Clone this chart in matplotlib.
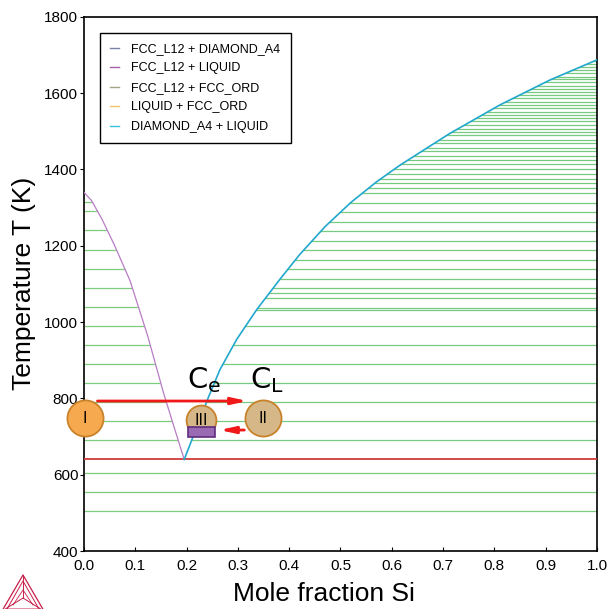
import matplotlib
matplotlib.use("Agg")
import matplotlib.pyplot as plt
from matplotlib.lines import Line2D
from matplotlib.patches import Rectangle, Polygon

plt.rcParams['font.family'] = ['Liberation Sans', 'DejaVu Sans']
plt.rcParams['mathtext.fontset'] = 'dejavusans'

# liquidus curves (mole fraction Si, T in K)
left_x = [0.0, 0.015, 0.035, 0.060, 0.090, 0.124, 0.155, 0.175, 0.1955]
left_T = [1340, 1318, 1270, 1200, 1108, 965, 815, 728, 640]
right_x = [0.1955, 0.243, 0.265, 0.298, 0.337, 0.382, 0.420, 0.470, 0.520, 0.570,
           0.616, 0.713, 0.811, 0.908, 1.0]
right_T = [640, 804, 875, 955, 1033, 1112, 1176, 1250, 1313, 1367,
           1411, 1494, 1569, 1634, 1687]

eutectic_T = 640

# tie-lines
below_ties = [505, 555, 605]
left_ties = [690, 740, 790, 840, 890, 940, 990, 1040, 1090, 1140, 1190, 1240, 1290, 1315]
right_ties = [690, 740, 790, 840, 890, 940, 990, 1032, 1037, 1064, 1075, 1088, 1113, 1138,
              1162, 1189, 1212, 1238, 1263, 1289, 1313, 1339, 1350, 1363, 1376, 1389, 1401,
              1413, 1424, 1436, 1447, 1457, 1468, 1478, 1489, 1498, 1507, 1517, 1526, 1535,
              1543, 1551, 1560, 1569, 1577, 1586, 1594, 1602, 1611, 1619, 1628, 1636, 1643,
              1652, 1661, 1668, 1676, 1683]

legend_labels = ["FCC_L12 + DIAMOND_A4", "FCC_L12 + LIQUID", "FCC_L12 + FCC_ORD",
                 "LIQUID + FCC_ORD", "DIAMOND_A4 + LIQUID"]
legend_colors = ["#7a84a8", "#a560a8", "#a6a486", "#f2c46a", "#3cc0e0"]

# annotation markers
circle_x = [0.002, 0.3495, 0.229]
circle_T = [748, 748, 743]
circle_text = ["I", "II", "III"]

fig = plt.figure(figsize=(6.08, 6.09), dpi=100)
ax = fig.add_axes([0.138, 0.0952, 0.844, 0.8774])

tie_color = "#5cbf5c"
ax.hlines(below_ties, 0, 1, color=tie_color, lw=0.9, alpha=0.8, zorder=1)
ax.hlines(left_ties, 0, 0.2, color=tie_color, lw=0.9, alpha=0.8, zorder=1)
ax.hlines(right_ties, 0.19, 1, color="#2fae3a", lw=0.9, alpha=0.65, zorder=1)

# liquid region (no tie-lines)
liq = list(zip(left_x, left_T)) + list(zip(right_x[1:], right_T[1:])) + [(1.0, 1800), (0.0, 1800)]
ax.add_patch(Polygon(liq, closed=True, facecolor="white", edgecolor="none", zorder=2))

ax.axhline(eutectic_T, color="#d03a3a", lw=1.3, zorder=3)
ax.plot(left_x, left_T, color="#b87cc4", lw=0.9, zorder=3)
ax.plot(right_x, right_T, color="#22a8cc", lw=1.2, zorder=3)

ax.set_xlim(0, 1)
ax.set_ylim(400, 1800)
ax.set_xticks([i / 10 for i in range(11)])
ax.set_xticklabels([f"{i / 10:.1f}" for i in range(11)])
ax.set_yticks(range(400, 1801, 200))
ax.tick_params(axis='x', direction='in', length=3, pad=6, labelsize=11)
ax.tick_params(axis='y', direction='out', length=3, pad=1, labelsize=11)
for s in ax.spines.values():
    s.set_linewidth(1.2)

ax.set_xlabel("Mole fraction Si", fontsize=19)
ax.xaxis.set_label_coords(0.468, -0.058)
ax.set_ylabel("Temperature T (K)", fontsize=19)
ax.yaxis.set_label_coords(-0.093, 0.5)

handles = [Line2D([0], [0], color=c, lw=1) for c in legend_colors]
leg = ax.legend(handles, legend_labels, loc='upper left', fontsize=9, handlelength=0.7,
                handletextpad=1.0, labelspacing=0.6, borderaxespad=1.3, fancybox=False,
                framealpha=1, borderpad=0.8)
leg.get_frame().set_edgecolor("black")
leg.get_frame().set_linewidth(1.0)
leg.set_zorder(10)

# arrows
ax.annotate("", xy=(0.324, 793), xytext=(0.021, 793),
            arrowprops=dict(arrowstyle='-|>,head_width=0.2,head_length=0.9', color='#f01818', lw=2),
            zorder=6, annotation_clip=False)
ax.annotate("", xy=(0.259, 717), xytext=(0.318, 717),
            arrowprops=dict(arrowstyle='-|>,head_width=0.2,head_length=0.9', color='#f01818', lw=2),
            zorder=6)

# circles
sizes = [26, 26, 21.5]
faces = ["#f6a94f", "#d6b787", "#d6b787"]
for x, T, t, ms, fc in zip(circle_x, circle_T, circle_text, sizes, faces):
    ax.plot(x, T, 'o', ms=ms, mfc=fc, mec="#c8822a", mew=1.3, zorder=7, clip_on=False)
    ax.text(x, T, t, ha='center', va='center', fontsize=11, family='DejaVu Sans', zorder=8)
ax.add_patch(Rectangle((0.202, 700), 0.053, 24, facecolor="#9a6bb2", edgecolor="#5e2e7e",
                       lw=1.2, zorder=9))

ax.text(0.200, 827, r"$\mathrm{C_e}$", fontsize=21, zorder=8)
ax.text(0.323, 827, r"$\mathrm{C_L}$", fontsize=21, zorder=8)

# logo in the corner
W, H = 608, 609
def fx(p):
    return [v / W for v in p]
def fy(p):
    return [1 - v / H for v in p]
logo = "#c8204a"
fig.add_artist(Line2D(fx([2, 23, 44, 2]), fy([611, 575, 611, 611]), color=logo, lw=0.9))
fig.add_artist(Line2D(fx([7, 23, 39, 7]), fy([609, 581, 609, 609]), color=logo, lw=0.7))
fig.add_artist(Line2D(fx([23, 23]), fy([575, 598]), color=logo, lw=0.7))
fig.add_artist(Line2D(fx([2, 23, 44]), fy([611, 598, 611]), color=logo, lw=0.7))
fig.add_artist(Line2D(fx([13, 23, 33]), fy([605, 590, 605]), color=logo, lw=0.6))

fig.savefig("out.png", dpi=100)
